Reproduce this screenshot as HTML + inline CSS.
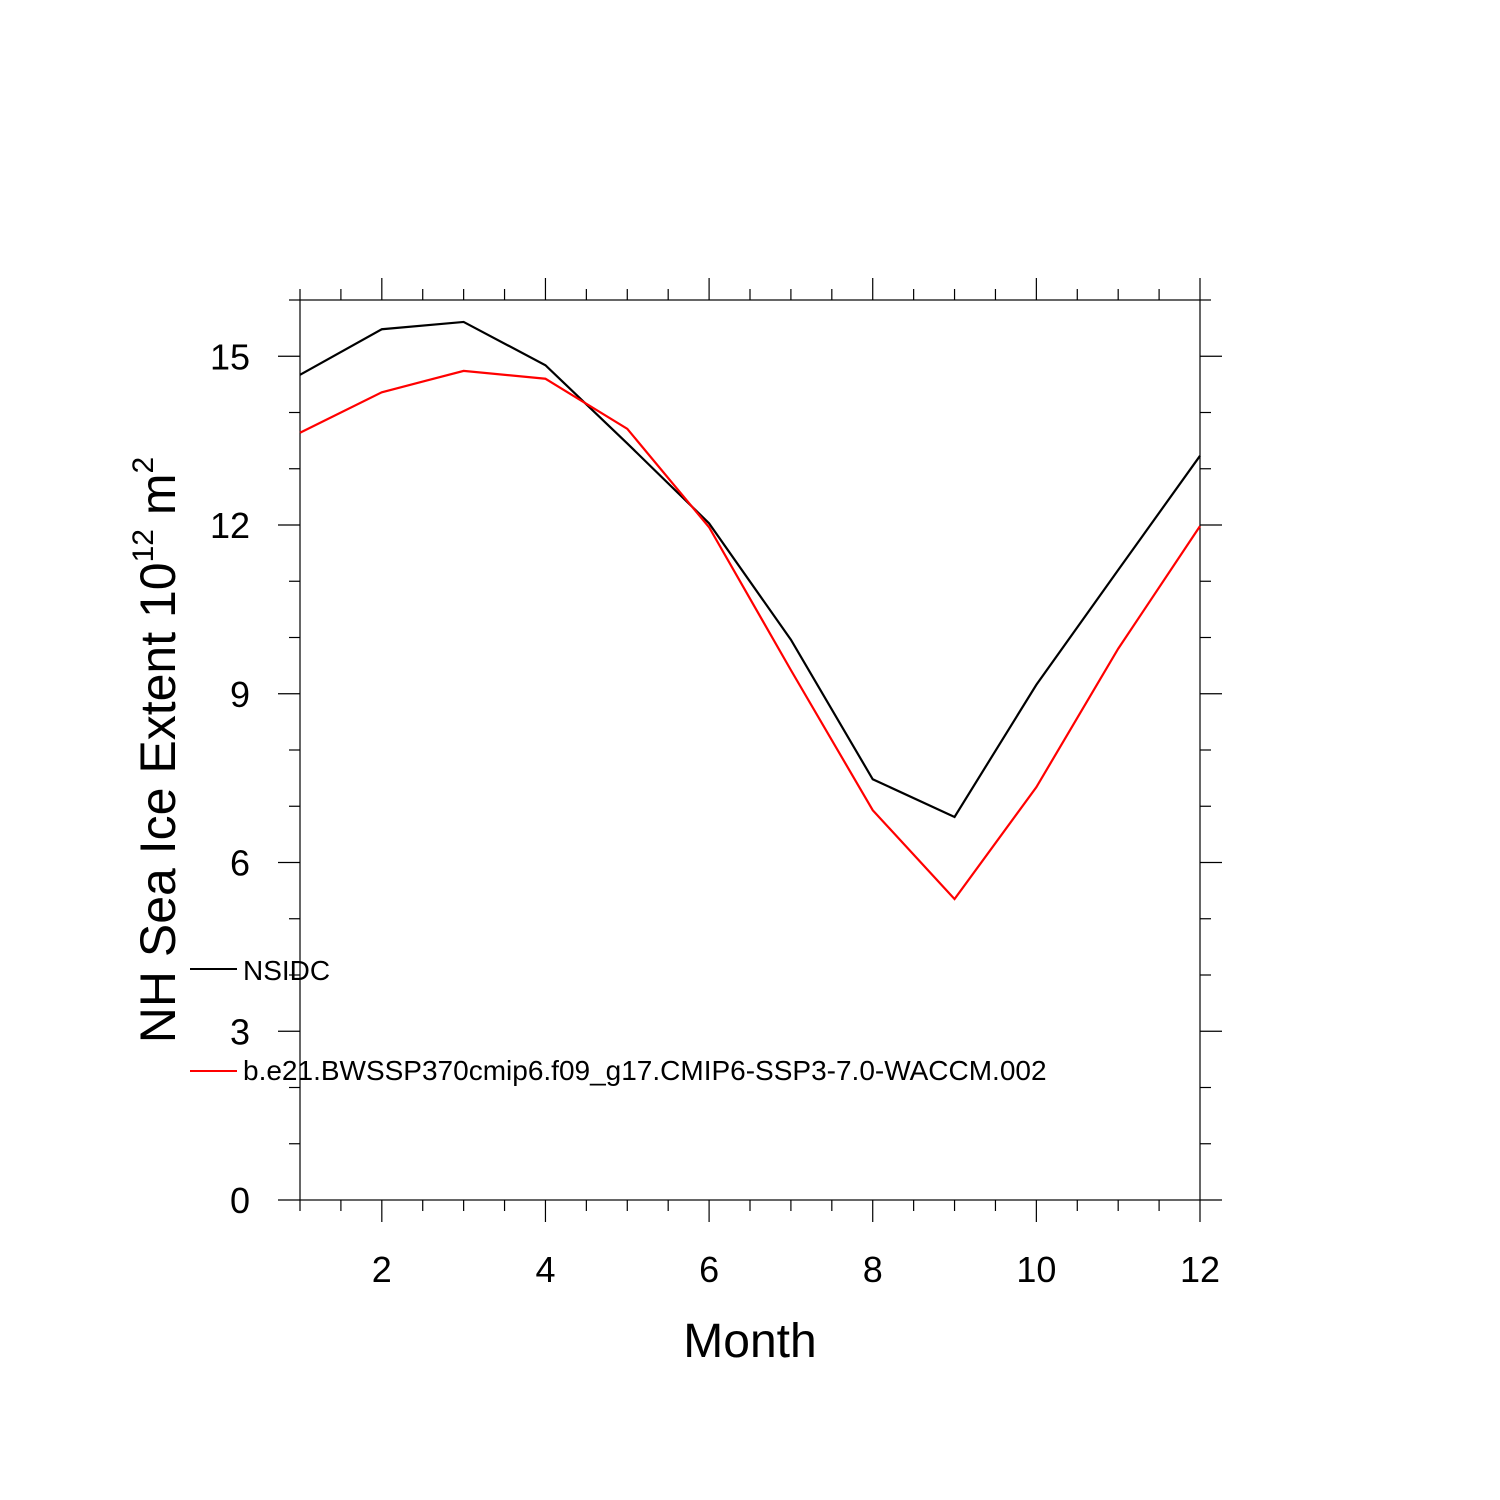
<!DOCTYPE html>
<html><head><meta charset="utf-8"><style>
html,body{margin:0;padding:0;background:#fff;}
svg{display:block;font-family:"Liberation Sans",Arial,sans-serif;}
</style></head><body>
<svg id="chart" width="1500" height="1500" viewBox="0 0 1500 1500">
<rect x="0" y="0" width="1500" height="1500" fill="#fff"/>
<g id="axes"></g>
<g id="series"></g>
<text x="750" y="1357" font-size="48" text-anchor="middle">Month</text>
<text transform="translate(175,750) rotate(-90)" font-size="50" text-anchor="middle">NH Sea Ice Extent 10<tspan font-size="30" dy="-22">12</tspan><tspan dy="22"> m</tspan><tspan font-size="30" dy="-22">2</tspan></text>
<g>
<line x1="190" y1="969" x2="237" y2="969" stroke="#000" stroke-width="2"/>
<text x="243" y="980" font-size="28">NSIDC</text>
<line x1="190" y1="1071" x2="237" y2="1071" stroke="#f00" stroke-width="2"/>
<text x="243" y="1080" font-size="28">b.e21.BWSSP370cmip6.f09_g17.CMIP6-SSP3-7.0-WACCM.002</text>
</g>
</svg>
<script>
const months = [1,2,3,4,5,6,7,8,9,10,11,12];
const nsidc = [14.67,15.48,15.61,14.84,13.45,12.03,9.96,7.48,6.81,9.16,11.2,13.23];
const model = [13.64,14.36,14.74,14.6,13.71,11.96,9.42,6.93,5.35,7.34,9.8,11.98];
const xTicks = [2,4,6,8,10,12];
const yTicks = [0,3,6,9,12,15];
const X0=300,X1=1200,Y0=1200,Y1=300;
const xs = m => X0 + (m-1)/(12-1)*(X1-X0);
const ys = v => Y0 - v/16*(Y0-Y1);
const NS="http://www.w3.org/2000/svg";
const axes=document.getElementById('axes');
function ln(x1,y1,x2,y2,name){
  const l=document.createElementNS(NS,'line');
  l.setAttribute('x1',x1);l.setAttribute('y1',y1);l.setAttribute('x2',x2);l.setAttribute('y2',y2);
  l.setAttribute('stroke','#000');l.setAttribute('stroke-width','1.2');
  
  
  axes.appendChild(l);
}
const fr=document.createElementNS(NS,'rect');
fr.setAttribute('x',X0);fr.setAttribute('y',Y1);fr.setAttribute('width',X1-X0);fr.setAttribute('height',Y0-Y1);
fr.setAttribute('fill','none');fr.setAttribute('stroke','#000');fr.setAttribute('stroke-width','1.2');


axes.appendChild(fr);
for(let m=1;m<=12;m+=0.5){
  const x=xs(m);const major=xTicks.includes(m);const len=major?22:11;
  ln(x,Y0,x,Y0+len,'x-tick');ln(x,Y1,x,Y1-len,'x-tick-top');
}
for(let v=0;v<=16;v++){
  const y=ys(v);const major=yTicks.includes(v);const len=major?22:11;
  ln(X0,y,X0-len,y,'y-tick');ln(X1,y,X1+len,y,'y-tick-right');
}
xTicks.forEach(m=>{
  const t=document.createElementNS(NS,'text');
  t.setAttribute('x',xs(m));t.setAttribute('y',1282);t.setAttribute('font-size','36');t.setAttribute('text-anchor','middle');
  t.textContent=m;
  
  
  axes.appendChild(t);
});
yTicks.forEach(v=>{
  const t=document.createElementNS(NS,'text');
  t.setAttribute('x',250);t.setAttribute('y',ys(v)+13);t.setAttribute('font-size','36');t.setAttribute('text-anchor','end');
  t.textContent=v;
  
  
  axes.appendChild(t);
});
const series=document.getElementById('series');
function drawLine(vals,color,name){
  const p=document.createElementNS(NS,'polyline');
  p.setAttribute('points',vals.map((v,i)=>xs(months[i])+','+ys(v)).join(' '));
  p.setAttribute('fill','none');p.setAttribute('stroke',color);p.setAttribute('stroke-width','2.2');
  
  
  series.appendChild(p);
}
drawLine(nsidc,'#000','nsidc-line');
drawLine(model,'#f00','model-line');
</script>
</body></html>
